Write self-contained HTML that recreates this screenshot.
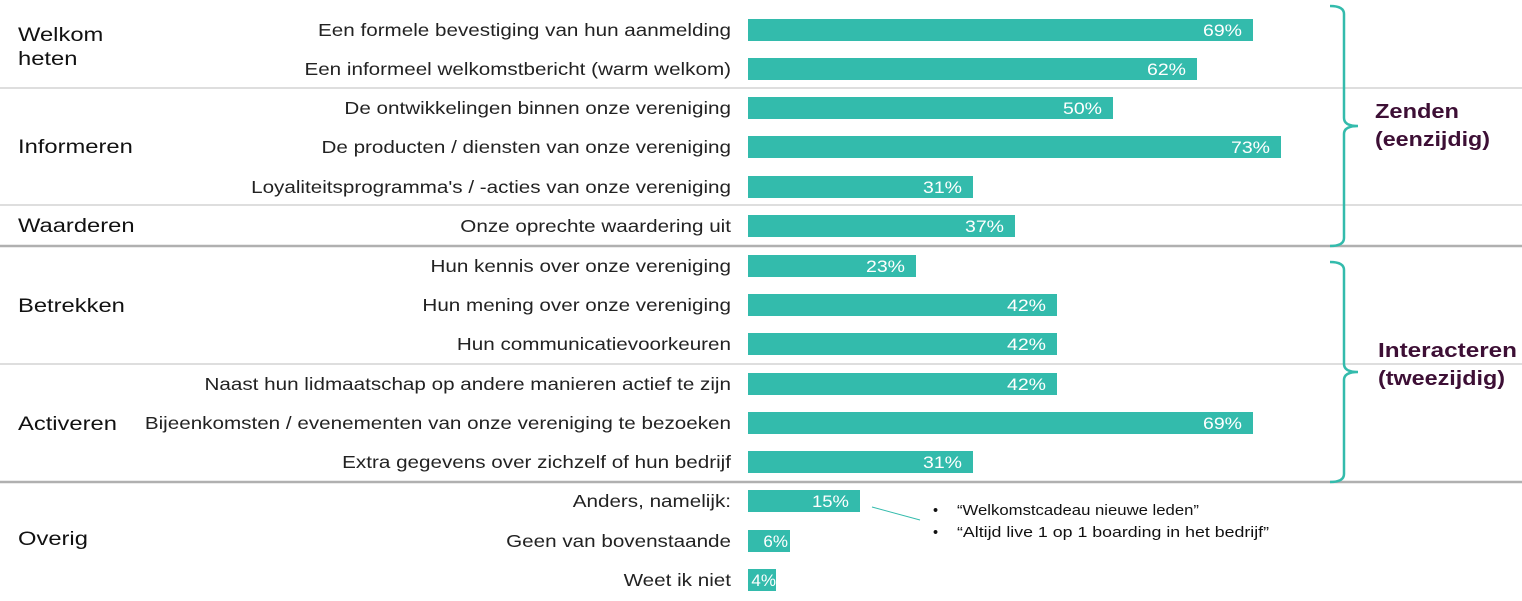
<!DOCTYPE html>
<html><head><meta charset="utf-8"><style>
body{margin:0;width:1522px;height:596px;background:#fff;overflow:hidden;font-family:"Liberation Sans",sans-serif}
</style></head><body>
<svg width="1522" height="596" xmlns="http://www.w3.org/2000/svg" font-family="Liberation Sans, sans-serif">
<g stroke="#d4d4d4" stroke-width="1.5">
<line x1="0" y1="88" x2="1522" y2="88"/><line x1="0" y1="205" x2="1522" y2="205"/>
<line x1="0" y1="364" x2="1522" y2="364"/>
</g>
<g stroke="#b0b0b0" stroke-width="2.5">
<line x1="0" y1="246" x2="1522" y2="246"/><line x1="0" y1="482" x2="1522" y2="482"/>
</g>
<g font-size="17.5" fill="#222" text-anchor="end" transform="translate(731,0) scale(1.18,1) translate(-731,0)">
<text x="731" y="36">Een formele bevestiging van hun aanmelding</text>
<text x="731" y="75">Een informeel welkomstbericht (warm welkom)</text>
<text x="731" y="114">De ontwikkelingen binnen onze vereniging</text>
<text x="731" y="153">De producten / diensten van onze vereniging</text>
<text x="731" y="193">Loyaliteitsprogramma's / -acties van onze vereniging</text>
<text x="731" y="232">Onze oprechte waardering uit</text>
<text x="731" y="272">Hun kennis over onze vereniging</text>
<text x="731" y="311">Hun mening over onze vereniging</text>
<text x="731" y="350">Hun communicatievoorkeuren</text>
<text x="731" y="390">Naast hun lidmaatschap op andere manieren actief te zijn</text>
<text x="731" y="429">Bijeenkomsten / evenementen van onze vereniging te bezoeken</text>
<text x="731" y="468">Extra gegevens over zichzelf of hun bedrijf</text>
<text x="731" y="507">Anders, namelijk:</text>
<text x="731" y="547">Geen van bovenstaande</text>
<text x="731" y="586">Weet ik niet</text>
</g>
<g font-size="19" fill="#111" transform="translate(18,0) scale(1.25,1) translate(-18,0)">
<text x="18" y="41">Welkom</text><text x="18" y="65">heten</text>
<text x="18" y="153">Informeren</text>
<text x="18" y="232">Waarderen</text>
<text x="18" y="312">Betrekken</text>
<text x="18" y="430">Activeren</text>
<text x="18" y="545">Overig</text>
</g>
<g fill="#33bbac">
<rect x="748" y="19" width="505" height="22"/>
<rect x="748" y="58" width="449" height="22"/>
<rect x="748" y="97" width="365" height="22"/>
<rect x="748" y="136" width="533" height="22"/>
<rect x="748" y="176" width="225" height="22"/>
<rect x="748" y="215" width="267" height="22"/>
<rect x="748" y="255" width="168" height="22"/>
<rect x="748" y="294" width="309" height="22"/>
<rect x="748" y="333" width="309" height="22"/>
<rect x="748" y="373" width="309" height="22"/>
<rect x="748" y="412" width="505" height="22"/>
<rect x="748" y="451" width="225" height="22"/>
<rect x="748" y="490" width="112" height="22"/>
<rect x="748" y="530" width="42" height="22"/>
<rect x="748" y="569" width="28" height="22"/>
</g>
<g font-size="17" fill="#fff" text-anchor="end" lengthAdjust="spacingAndGlyphs">
<text x="1242" y="36" textLength="39" lengthAdjust="spacingAndGlyphs">69%</text><text x="1186" y="75" textLength="39" lengthAdjust="spacingAndGlyphs">62%</text><text x="1102" y="114" textLength="39" lengthAdjust="spacingAndGlyphs">50%</text>
<text x="1270" y="153" textLength="39" lengthAdjust="spacingAndGlyphs">73%</text><text x="962" y="193" textLength="39" lengthAdjust="spacingAndGlyphs">31%</text><text x="1004" y="232" textLength="39" lengthAdjust="spacingAndGlyphs">37%</text>
<text x="905" y="272" textLength="39" lengthAdjust="spacingAndGlyphs">23%</text><text x="1046" y="311" textLength="39" lengthAdjust="spacingAndGlyphs">42%</text><text x="1046" y="350" textLength="39" lengthAdjust="spacingAndGlyphs">42%</text>
<text x="1046" y="390" textLength="39" lengthAdjust="spacingAndGlyphs">42%</text><text x="1242" y="429" textLength="39" lengthAdjust="spacingAndGlyphs">69%</text><text x="962" y="468" textLength="39" lengthAdjust="spacingAndGlyphs">31%</text>
<text x="849" y="507" textLength="37" lengthAdjust="spacingAndGlyphs">15%</text><text x="788" y="547">6%</text><text x="776" y="586">4%</text>
</g>
<g fill="none" stroke="#33bbac" stroke-width="2.5">
<path d="M1330 6 Q1344 6 1344 14 L1344 118 Q1344 126 1358 126 Q1344 126 1344 134 L1344 238 Q1344 246 1330 246"/>
<path d="M1330 262 Q1344 262 1344 270 L1344 364 Q1344 372 1358 372 Q1344 372 1344 380 L1344 474 Q1344 482 1330 482"/>
</g>
<g font-size="20" font-weight="bold" fill="#3d0f35">
<text x="1375" y="118" textLength="84" lengthAdjust="spacingAndGlyphs">Zenden</text><text x="1375" y="146" textLength="115" lengthAdjust="spacingAndGlyphs">(eenzijdig)</text>
<text x="1378" y="357" textLength="139" lengthAdjust="spacingAndGlyphs">Interacteren</text><text x="1378" y="385" textLength="127" lengthAdjust="spacingAndGlyphs">(tweezijdig)</text>
</g>
<line x1="872" y1="507" x2="920" y2="520" stroke="#33bbac" stroke-width="1"/>
<g font-size="14.5" fill="#111">
<text x="933" y="515">•</text><text x="957" y="515" textLength="242" lengthAdjust="spacingAndGlyphs">“Welkomstcadeau nieuwe leden”</text>
<text x="933" y="537">•</text><text x="957" y="537" textLength="312" lengthAdjust="spacingAndGlyphs">“Altijd live 1 op 1 boarding in het bedrijf”</text>
</g>
</svg>
</body></html>
